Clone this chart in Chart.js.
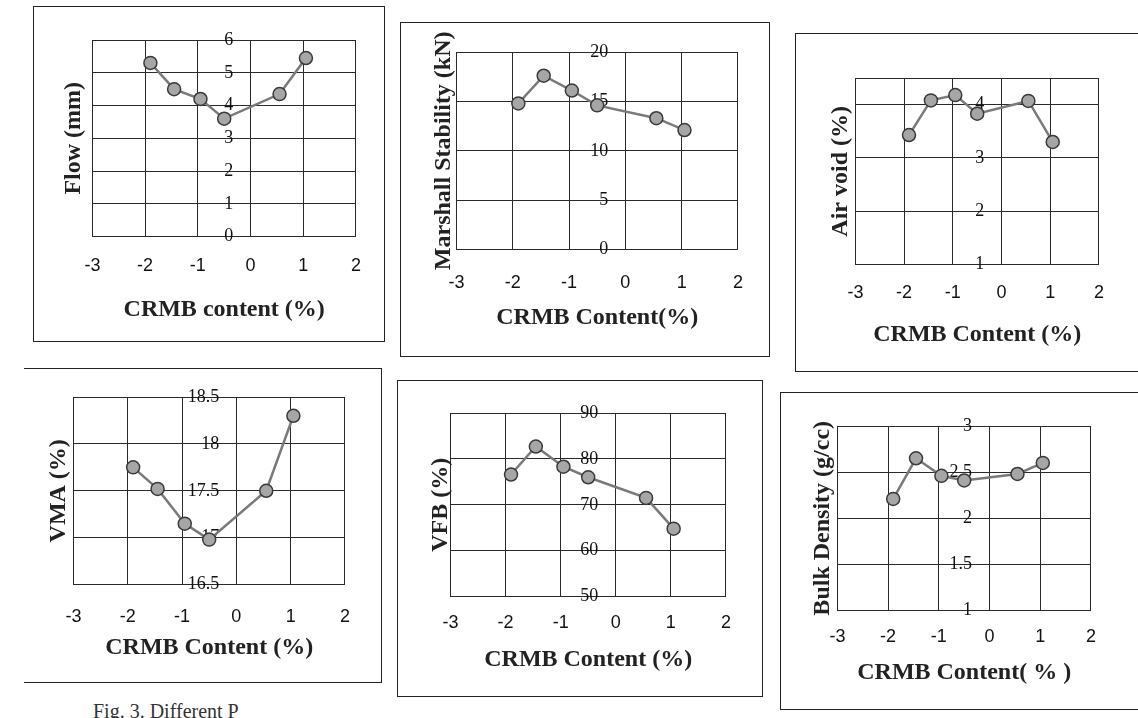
<!DOCTYPE html>
<html><head><meta charset="utf-8">
<script src="https://cdn.jsdelivr.net/npm/chart.js@4"></script>
<style>
html,body{margin:0;padding:0;background:#fff;width:1138px;height:718px;overflow:hidden;position:relative;}
.panel{position:absolute;border:1.5px solid #222;box-sizing:border-box;}
canvas{position:absolute;}
#cap{position:absolute;left:93px;top:700px;font:20px "Liberation Serif",serif;color:#333;white-space:nowrap;}
</style></head><body>
<div id="cap">Fig. 3. Different P</div>
<script>
// ---- data ----
const crmbContent = [-1.9, -1.45, -0.95, -0.5, 0.55, 1.05];
const xTickValues = [-3, -2, -1, 0, 1, 2];

const flowValues = [5.3, 4.5, 4.2, 3.6, 4.35, 5.45];
const flowTicks = [0, 1, 2, 3, 4, 5, 6];

const stabilityValues = [14.8, 17.6, 16.1, 14.6, 13.3, 12.1];
const stabilityTicks = [0, 5, 10, 15, 20];

const airVoidValues = [3.43, 4.08, 4.18, 3.83, 4.07, 3.3];
const airVoidTicks = [1, 2, 3, 4];

const vmaValues = [17.75, 17.52, 17.15, 16.98, 17.5, 18.3];
const vmaTicks = [16.5, 17, 17.5, 18, 18.5];

const vfbValues = [76.6, 82.7, 78.3, 76.0, 71.5, 64.8];
const vfbTicks = [50, 60, 70, 80, 90];

const bulkValues = [2.21, 2.65, 2.46, 2.41, 2.48, 2.6];
const bulkTicks = [1, 1.5, 2, 2.5, 3];

// ---- layout (positions/styles only) ----
const panels = [
  {yTitle:'Flow (mm)', xTitle:'CRMB content (%)', values:flowValues, ticks:flowTicks,
   box:[33,6,385,342], plot:[92,40,366,237], ytx:73, xly:266, xty:310},
  {yTitle:'Marshall Stability (kN)', xTitle:'CRMB Content(%)', values:stabilityValues, ticks:stabilityTicks,
   box:[400,22,770,357], plot:[456,52,752,250], ytx:443, xly:283, xty:318},
  {yTitle:'Air void (%)', xTitle:'CRMB Content (%)', values:airVoidValues, ticks:airVoidTicks, yMax:4.5,
   box:[795,33,1142,372], plot:[855,78,1108,265], ytx:840, xly:293, xty:335},
  {yTitle:'VMA (%)', xTitle:'CRMB Content (%)', values:vmaValues, ticks:vmaTicks, noLeft:true,
   box:[24,368,382,683], plot:[73,397,358,585], ytx:58, xly:617, xty:648},
  {yTitle:'VFB (%)', xTitle:'CRMB Content (%)', values:vfbValues, ticks:vfbTicks,
   box:[397,380,763,697], plot:[450,413,733,597], ytx:440, xly:623, xty:660},
  {yTitle:'Bulk Density (g/cc)', xTitle:'CRMB Content( % )', values:bulkValues, ticks:bulkTicks,
   box:[780,392,1142,710], plot:[837,426,1098,611], ytx:822, xly:637, xty:673}
];

const titleFont = {family:'"Liberation Serif", serif', size:24, weight:'bold'};
const TITLE_OFF = 24*1.2/2 + 4;
const PAD_TOP = 34, PAD_RIGHT = 14;
const LABEL_GAP = 18;
const gridColor = '#2a2a2a';

panels.forEach(p => {
  const b = document.createElement('div');
  b.className = 'panel';
  b.style.left = p.box[0]+'px'; b.style.top = p.box[1]+'px';
  b.style.width = (p.box[2]-p.box[0])+'px'; b.style.height = (p.box[3]-p.box[1])+'px';
  if (p.noLeft) b.style.borderLeft = 'none';
  document.body.appendChild(b);

  const [pl, pt, pr, pb] = p.plot;
  const cl = p.ytx - TITLE_OFF, ct = pt - PAD_TOP, cr = pr + PAD_RIGHT, cb = p.xty + TITLE_OFF;
  const c = document.createElement('canvas');
  c.width = Math.round(cr - cl); c.height = Math.round(cb - ct);
  c.style.left = cl+'px'; c.style.top = ct+'px';
  c.style.width = c.width+'px'; c.style.height = c.height+'px';
  document.body.appendChild(c);

  const tks = p.ticks;
  const yMin = tks[0], yMax = p.yMax !== undefined ? p.yMax : tks[tks.length-1];
  const unitPx = (pr - pl) / (xTickValues[xTickValues.length-1] - xTickValues[0]);
  const axisAt = -LABEL_GAP / unitPx;

  new Chart(c, {
    type:'line',
    data:{ datasets:[{
      data: crmbContent.map((x,i)=>({x, y:p.values[i]})),
      borderColor:'#7a7a7a', borderWidth:2.5,
      pointBackgroundColor:'#a6a6a6', pointBorderColor:'#3a3a3a', pointBorderWidth:1.5,
      pointRadius:6.5, tension:0, fill:false
    }]},
    options:{
      responsive:false, animation:false, events:[],
      layout:{padding:{top:PAD_TOP, right:PAD_RIGHT, left:0, bottom:0}},
      plugins:{legend:{display:false}, tooltip:{enabled:false}},
      scales:{
        x:{type:'linear', position:'bottom', min:xTickValues[0], max:xTickValues[xTickValues.length-1],
           afterBuildTicks: s => { s.ticks = xTickValues.map(v=>({value:v})); },
           ticks:{padding: p.xly - pb - 10, color:'#111', font:{family:'"Liberation Sans", sans-serif', size:18}},
           grid:{color:gridColor, lineWidth:1, drawTicks:false},
           border:{display:true, color:gridColor},
           title:{display:true, text:p.xTitle, color:'#222', font:titleFont, padding:{top:4,bottom:4}},
           afterFit: s => { s.height = cb - pb; }
        },
        y:{type:'linear', position:{x:axisAt}, min:yMin, max:yMax,
           afterBuildTicks: s => { const t = tks.map(v=>({value:v})); if (yMax !== tks[tks.length-1]) t.push({value:yMax}); s.ticks = t; },
           ticks:{padding:0, color:'#111', font:{family:'"Liberation Serif", serif', size:18},
                  callback: v => tks.includes(v) ? String(v) : ''},
           grid:{color:gridColor, lineWidth:1, drawTicks:false},
           border:{display:false}
        },
        yt:{type:'linear', position:'left', display:true,
            grid:{display:false}, border:{display:false}, ticks:{display:false},
            title:{display:true, text:p.yTitle, color:'#222', font:titleFont, padding:{top:4,bottom:4}},
            afterFit: s => { s.width = pl - cl; }
        }
      }
    }
  });
});
</script>
</body></html>
